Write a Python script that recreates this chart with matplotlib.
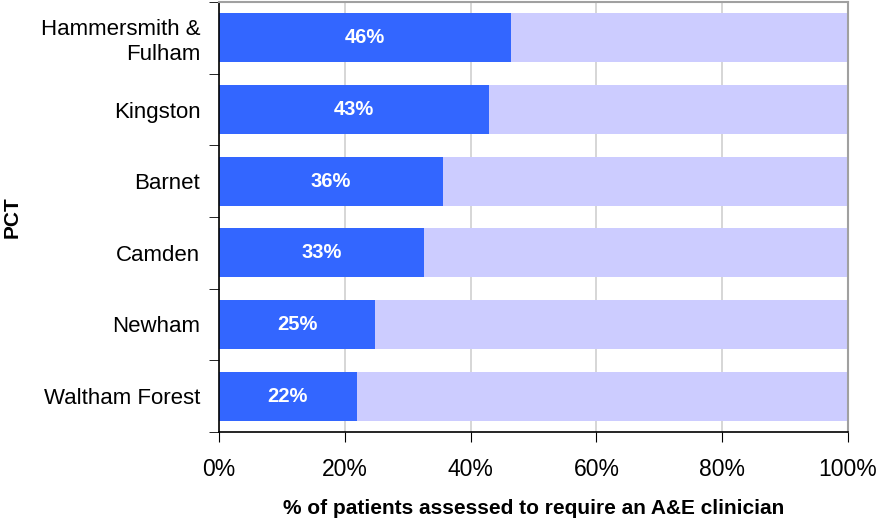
import matplotlib.pyplot as plt
import numpy as np

plt.rcParams['font.family'] = ['Liberation Sans', 'DejaVu Sans']

pcts = ["Hammersmith &\nFulham", "Kingston", "Barnet", "Camden", "Newham", "Waltham Forest"]
share = [46.4, 42.9, 35.6, 32.6, 24.8, 21.9]

fig = plt.figure(figsize=(8.81, 5.21), dpi=100)
ax = fig.add_axes([219/881, 1 - 432/521, 629/881, 430/521])

y = np.arange(len(pcts))[::-1]
rest = [100 - v for v in share]
ax.barh(y, share, height=0.68, color="#3366FF", zorder=2)
ax.barh(y, rest, left=share, height=0.68, color="#CCCCFF", zorder=2)
for yi, v in zip(y, share):
    ax.text(v / 2, yi, f"{v:.0f}%", ha="center", va="center",
            color="white", fontsize=14.5, fontweight="bold", zorder=3)

ax.set_xlim(0, 100)
ax.set_ylim(-0.5, len(pcts) - 0.5)
ax.set_xticks(np.arange(0, 101, 20))
ax.set_xticklabels([f"{t}%" for t in range(0, 101, 20)], fontsize=16.5)
ax.set_yticks(y)
ax.set_yticklabels(pcts, fontsize=16, linespacing=1.25)
ax.tick_params(axis="y", length=0, pad=13.5)
ax.set_yticks(np.arange(-0.5, len(pcts), 1), minor=True)
ax.tick_params(axis="y", which="minor", length=7, direction="out", color="black")
ax.tick_params(axis="x", length=7, direction="out", pad=12, color="black")
ax.xaxis.grid(True, color="#D0D0D0", linewidth=1.2, zorder=0)
ax.set_axisbelow(True)

for s in ("top", "right"):
    ax.spines[s].set_color("#A0A0A0")
    ax.spines[s].set_linewidth(1.5)
for s in ("left", "bottom"):
    ax.spines[s].set_color("black")
    ax.spines[s].set_linewidth(1.2)

ax.set_xlabel("% of patients assessed to require an A&E clinician",
              fontsize=15, fontweight="bold", labelpad=13)
ax.set_ylabel("PCT", fontsize=15, fontweight="bold")
ax.yaxis.set_label_coords((22 - 219) / 629, 0.5)

fig.savefig("out.png", dpi=100)
